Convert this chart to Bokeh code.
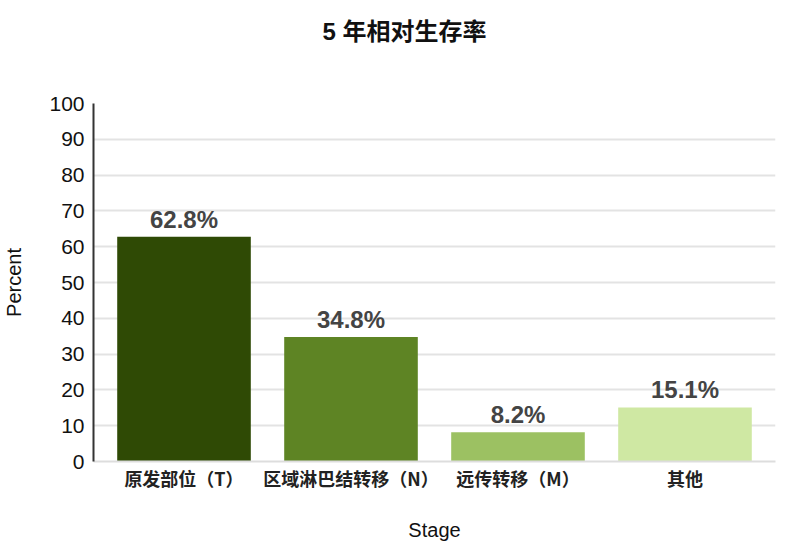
from bokeh.plotting import figure
from bokeh.models import ColumnDataSource, FixedTicker, FactorRange
from bokeh.embed import file_html
from bokeh.resources import INLINE

categories = ["原发部位（T）", "区域淋巴结转移（N）", "远传转移（M）", "其他"]
values = [62.8, 34.8, 8.2, 15.1]
labels = ["62.8%", "34.8%", "8.2%", "15.1%"]
colors = ["#2f4a05", "#5e8424", "#9cc162", "#cfe8a3"]
y_ticks = [0, 10, 20, 30, 40, 50, 60, 70, 80, 90, 100]

FONT = "Liberation Sans, Noto Sans CJK SC"
CJK = "Noto Sans CJK SC, Liberation Sans"
PAD = 0.021

src = ColumnDataSource(dict(cat=categories, val=values, lab=labels, col=colors))

p = figure(x_range=FactorRange(*categories, range_padding=PAD), y_range=(0, 100),
           width=781, height=543, output_backend="svg", toolbar_location=None,
           min_border_left=93, min_border_right=6, min_border_top=103, min_border_bottom=82)

p.vbar(x="cat", top="val", width=0.8, fill_color="col", line_color=None, source=src)
p.text(x="cat", y="val", text="lab", source=src, text_align="center", text_baseline="bottom",
       y_offset=-4, text_font_size="24px", text_font_style="bold", text_color="#444444",
       text_font={"value": FONT})

p.title.text = "5 年相对生存率\n\n"
p.title.align = "left"
p.title.offset = 229
p.title.text_font_size = "24px"
p.title.text_font_style = "bold"
p.title.text_font = FONT
p.title.text_color = "#111111"
p.title.standoff = 10

p.outline_line_color = None
p.xgrid.grid_line_color = None
p.ygrid.grid_line_color = "#e3e3e3"
p.ygrid.grid_line_width = 2

ya = p.yaxis[0]
ya.ticker = FixedTicker(ticks=y_ticks)
ya.major_label_text_font_size = "21px"
ya.major_label_text_font = FONT
ya.major_label_text_color = "#111111"
ya.major_tick_line_color = None
ya.major_tick_out = 0
ya.major_tick_in = 0
ya.minor_tick_line_color = None
ya.axis_line_color = "#333333"
ya.axis_line_width = 2
ya.major_label_standoff = 9
ya.axis_label = "Percent"
ya.axis_label_text_font_size = "20px"
ya.axis_label_text_font_style = "normal"
ya.axis_label_text_font = FONT
ya.axis_label_text_color = "#111111"
ya.axis_label_standoff = 21

xa = p.xaxis[0]
xa.axis_line_color = "#dddddd"
xa.axis_line_width = 2
xa.major_tick_line_color = None
xa.major_tick_out = 0
xa.major_tick_in = 0
xa.minor_tick_line_color = None
xa.major_label_text_font_size = "18px"
xa.major_label_text_font_style = "bold"
xa.major_label_text_font = CJK
xa.major_label_text_color = "#222222"
xa.major_label_standoff = 3
xa.axis_label = "Stage"
xa.axis_label_text_font_size = "20px"
xa.axis_label_text_font_style = "normal"
xa.axis_label_text_font = FONT
xa.axis_label_text_color = "#111111"
xa.axis_label_standoff = 25

open("out.html", "w").write(file_html(p, INLINE))
